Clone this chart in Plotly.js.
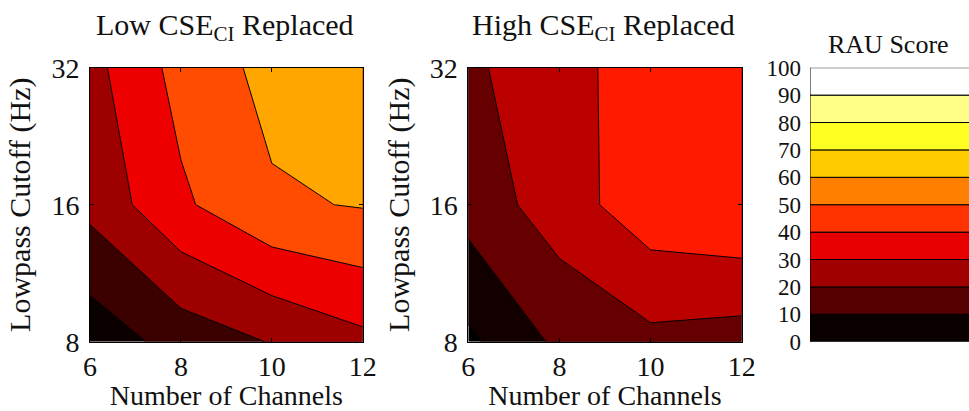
<!DOCTYPE html>
<html><head><meta charset="utf-8">
<script src="https://cdn.plot.ly/plotly-3.0.1.min.js"></script>
<style>html,body{margin:0;padding:0;background:#fff}</style>
</head><body><div id="chart" style="width:969px;height:411px"></div>
<script>
// ---- data ----
const channels = [6, 8, 10, 12];
const cutoffsHz = [8, 16, 32];
// RAU scores, one row per lowpass cutoff (8, 16, 32 Hz), columns = channels
const lowCSE_8Hz  = [3.5, 14.1, 20.5, 27.5];
const lowCSE_16Hz = [22.8, 38.3, 48.7, 50.6];
const lowCSE_32Hz = [26.8, 43.5, 53.0, 57.0];
const highCSE_8Hz  = [8.0, 22.1, 27.4, 25.5];
const highCSE_16Hz = [24.0, 35.1, 46.2, 49.3];
const highCSE_32Hz = [28.3, 36.0, 45.5, 47.0];
const scaleLevels = [0, 10, 20, 30, 40, 50, 60, 70, 80, 90];
const scaleTicks = [0, 10, 20, 30, 40, 50, 60, 70, 80, 90, 100];

// ---- styling ----
const lowColors  = ['#0b0000', '#3b0000', '#9e0000', '#ee0000', '#ff4c00', '#ffa600'];
const highColors = ['#000000', '#120000', '#660000', '#bb0000', '#ff1a00'];
const barColors  = ['#0a0000', '#550000', '#a00000', '#e80000', '#ff3300', '#ff8000', '#ffcc00', '#ffff22', '#ffff88', '#ffffff'];
const FONT = 'Liberation Serif';
const TXT = '#111';

function scale(cols) {
  return cols.map((c, i) => [i / (cols.length - 1), c]);
}
const yPos = cutoffsHz.map(v => Math.log2(v));

const lowTrace = {
  type: 'contour', x: channels, y: yPos,
  z: [lowCSE_8Hz, lowCSE_16Hz, lowCSE_32Hz],
  xaxis: 'x', yaxis: 'y',
  autocontour: false,
  contours: {start: 10, end: 50, size: 10, coloring: 'fill', showlines: true},
  colorscale: scale(lowColors), showscale: false,
  line: {color: '#000', width: 1, smoothing: 0},
  hoverinfo: 'skip'
};
const highTrace = {
  type: 'contour', x: channels, y: yPos,
  z: [highCSE_8Hz, highCSE_16Hz, highCSE_32Hz],
  xaxis: 'x2', yaxis: 'y2',
  autocontour: false,
  contours: {start: 10, end: 40, size: 10, coloring: 'fill', showlines: true},
  colorscale: scale(highColors), showscale: false,
  line: {color: '#000', width: 1, smoothing: 0},
  hoverinfo: 'skip'
};
const barTrace = {
  type: 'bar', x: scaleLevels.map(() => 0), y: scaleLevels.map(() => 10),
  base: scaleLevels, width: 1,
  marker: {color: barColors, line: {color: '#000', width: 1}},
  xaxis: 'x3', yaxis: 'y3', hoverinfo: 'skip', showlegend: false
};

const yDom = [1 - 341.7 / 411, 1 - 67.7 / 411];
function xAx(dom, anchor) {
  return {
    domain: dom, range: [6, 12], tickvals: channels, ticktext: channels.map(String),
    ticks: 'inside', ticklen: 4, tickcolor: '#000', showline: true, linecolor: '#000',
    linewidth: 1, mirror: 'ticks', showgrid: false, zeroline: false, anchor: anchor,
    tickfont: {family: FONT, size: 28, color: TXT}, ticklabelstandoff: 0,
    title: {text: 'Number of Channels', font: {family: FONT, size: 28, color: TXT}, standoff: 10}
  };
}
function yAx(anchor) {
  return {
    domain: yDom, range: [3, 5], tickvals: yPos, ticktext: cutoffsHz.map(String),
    ticks: 'inside', ticklen: 4, tickcolor: '#000', showline: true, linecolor: '#000',
    linewidth: 1, mirror: 'ticks', showgrid: false, zeroline: false, anchor: anchor,
    tickfont: {family: FONT, size: 28, color: TXT}, ticklabelstandoff: 4,
    title: {text: 'Lowpass Cutoff (Hz)', font: {family: FONT, size: 30, color: TXT}, standoff: 11}
  };
}

const layout = {
  width: 969, height: 411,
  margin: {l: 0, r: 0, t: 0, b: 0},
  paper_bgcolor: '#fff', plot_bgcolor: '#fff',
  font: {family: FONT, color: TXT},
  showlegend: false,
  xaxis: xAx([90 / 969, 362.7 / 969], 'y'), yaxis: yAx('x'),
  xaxis2: xAx([468.3 / 969, 741.7 / 969], 'y2'), yaxis2: yAx('x2'),
  xaxis3: {domain: [810 / 969, 1], range: [-0.5, 0.42], anchor: 'y3', visible: false, fixedrange: true},
  yaxis3: {domain: yDom, range: [0, 100], anchor: 'x3', tickvals: scaleTicks, ticks: '',
           showgrid: false, zeroline: false, showline: false,
           tickfont: {family: FONT, size: 23, color: TXT}, ticklabelstandoff: 8},
  annotations: [
    {text: 'Low CSE<sub>CI</sub> Replaced', xref: 'paper', yref: 'paper', x: 225 / 969, y: 1 - 27 / 411,
     xanchor: 'center', yanchor: 'middle', showarrow: false, font: {family: FONT, size: 30, color: TXT}},
    {text: 'High CSE<sub>CI</sub> Replaced', xref: 'paper', yref: 'paper', x: 603 / 969, y: 1 - 27 / 411,
     xanchor: 'center', yanchor: 'middle', showarrow: false, font: {family: FONT, size: 30, color: TXT}},
    {text: 'RAU Score', xref: 'paper', yref: 'paper', x: 888 / 969, y: 1 - 45 / 411,
     xanchor: 'center', yanchor: 'middle', showarrow: false, font: {family: FONT, size: 26, color: TXT}}
  ]
};

Plotly.newPlot('chart', [lowTrace, highTrace, barTrace], layout, {displayModeBar: false, staticPlot: true});
</script></body></html>
